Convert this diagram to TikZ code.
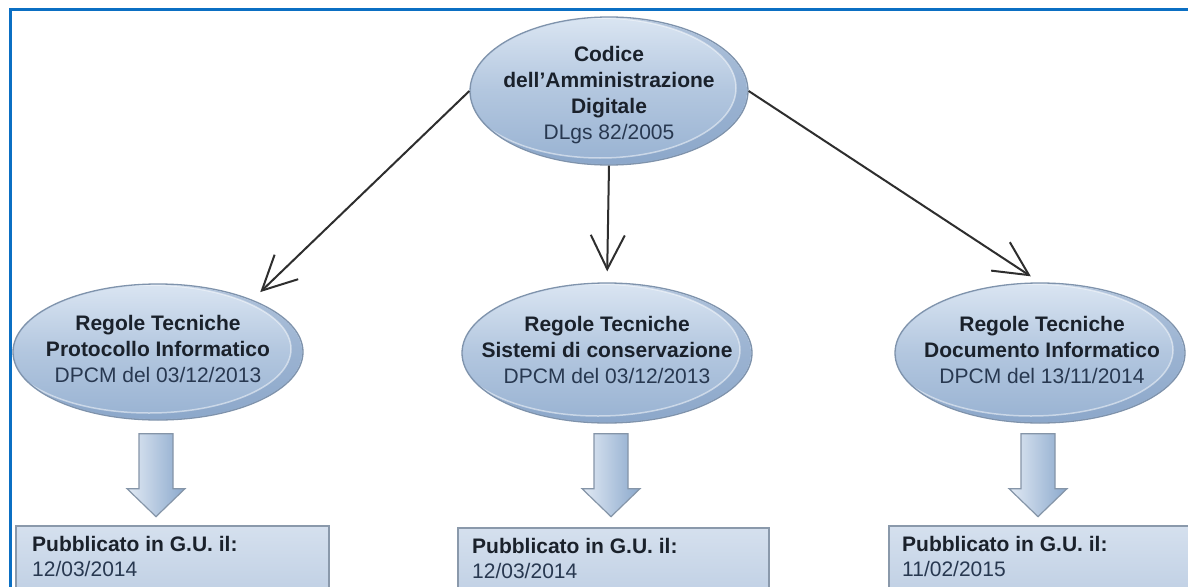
\documentclass[tikz,border=0pt]{standalone}
\usepackage{fontspec}
\setmainfont{Liberation Sans}
\usetikzlibrary{arrows.meta,shapes.geometric,calc}
\definecolor{frameblue}{HTML}{0B6FC3}
\definecolor{ellborder}{HTML}{7F93AC}
\definecolor{elltop}{HTML}{DAE5F2}
\definecolor{ellbot}{HTML}{98B2D2}
\definecolor{shinec}{HTML}{7F9CC2}
\definecolor{connc}{HTML}{2E2E2E}
\definecolor{txtc}{HTML}{1A212B}
\definecolor{txtr}{HTML}{283850}
\definecolor{boxborder}{HTML}{8A99AB}
\definecolor{boxtop}{HTML}{D5E0EE}
\definecolor{boxbot}{HTML}{B3C6DE}
\definecolor{arlight}{HTML}{E2EAF4}
\definecolor{ardark}{HTML}{8AA8CC}
\definecolor{arborder}{HTML}{8595A8}
\newcommand\ellshine[3]{%
  \begin{scope}
    \clip (#1) ellipse ({#2} and {#3});
    \fill[shinec, opacity=.45, even odd rule] (#1) ellipse ({#2} and {#3})
      ($(#1)+(-9,-3)$) ellipse ({#2-2} and {#3-3});
    \draw[white, opacity=.5, line width=1.5pt] ($(#1)+(-9,-3)$) ellipse ({#2-2} and {#3-3});
  \end{scope}}
\begin{document}
\begin{tikzpicture}[x=1pt,y=-1pt,
  ell/.style={ellipse, draw=ellborder, line width=1.3pt, inner sep=0pt,
    top color=elltop, bottom color=ellbot, middle color=ellbot!60!elltop},
  etxt/.style={align=center, inner sep=0pt, text=txtr,
    font=\fontsize{21}{26}\selectfont},
  conn/.style={draw=connc, line width=2pt,
    -{Straight Barb[length=34pt,width=34pt,line width=2pt]}, shorten >=11pt},
  blockar/.style={draw=arborder, line width=1.2pt, left color=arlight, right color=ardark},
  gubox/.style={rectangle, draw=boxborder, line width=1.6pt, inner sep=0pt,
    top color=boxtop, bottom color=boxbot, anchor=north west, minimum height=110pt},
  gtxt/.style={align=left, inner sep=0pt, anchor=north west, text=txtr,
    font=\fontsize{21}{25}\selectfont}]
\useasboundingbox (0,0) rectangle (1188,586);
\clip (0,0) rectangle (1188,586);
\fill[white] (0,0) rectangle (1188,586);
% frame
\draw[frameblue, line width=3pt] (10,600) -- (10,10) -- (1200,10);
% ellipses
\node[ell, minimum width=278pt, minimum height=148pt] (c) at (609,91) {};
\node[ell, minimum width=290pt, minimum height=136pt] (l) at (158,352) {};
\node[ell, minimum width=290pt, minimum height=140pt] (m) at (607,353) {};
\node[ell, minimum width=290pt, minimum height=140pt] (r) at (1040,353) {};
\ellshine{c}{138}{73}
\ellshine{l}{144}{67}
\ellshine{m}{144}{69}
\ellshine{r}{144}{69}
\node[etxt] (ct) at (609,95) {{\bfseries\color{txtc}Codice}\\{\bfseries\color{txtc}dell'Amministrazione}\\{\bfseries\color{txtc}Digitale}\\DLgs 82/2005};
\node[etxt] (lt) at (158,349) {{\bfseries\color{txtc}Regole Tecniche}\\{\bfseries\color{txtc}Protocollo Informatico}\\DPCM del 03/12/2013};
\node[etxt] (mt) at (607,350) {{\bfseries\color{txtc}Regole Tecniche}\\{\bfseries\color{txtc}Sistemi di conservazione}\\DPCM del 03/12/2013};
\node[etxt] (rt) at (1042,350) {{\bfseries\color{txtc}Regole Tecniche}\\{\bfseries\color{txtc}Documento Informatico}\\DPCM del 13/11/2014};
% connectors
\draw[conn] (c.west) -- (l.29);
\draw[conn] (c.south) -- (m.north);
\draw[conn] (c.east) -- (r.north);
% boxes
\node[gubox, minimum width=313pt] (gl) at (15,525) {};
\node[gubox, minimum width=311pt] (gm) at (457,527) {};
\node[gubox, minimum width=330pt] (gr) at (888,525) {};
\node[gtxt] (glt) at (32,536) {{\bfseries\color{txtc}Pubblicato in G.U. il:}\\12/03/2014};
\node[gtxt] (gmt) at (472,538) {{\bfseries\color{txtc}Pubblicato in G.U. il:}\\12/03/2014};
\node[gtxt] (grt) at (902,536) {{\bfseries\color{txtc}Pubblicato in G.U. il:}\\11/02/2015};
% block arrows
\coordinate (la) at ($(l.south)+(-2,13)$);
\coordinate (ma) at ($(m.south)+(4,10)$);
\coordinate (ra) at ($(r.south)+(-2,10)$);
\foreach \p in {la,ma,ra}{
  \path[blockar, shift={(\p)}] (-17,0) -- (17,0) -- (17,55) -- (29,55) -- (0,83)
    -- (-29,55) -- (-17,55) -- cycle;}
\end{tikzpicture}
\end{document}
